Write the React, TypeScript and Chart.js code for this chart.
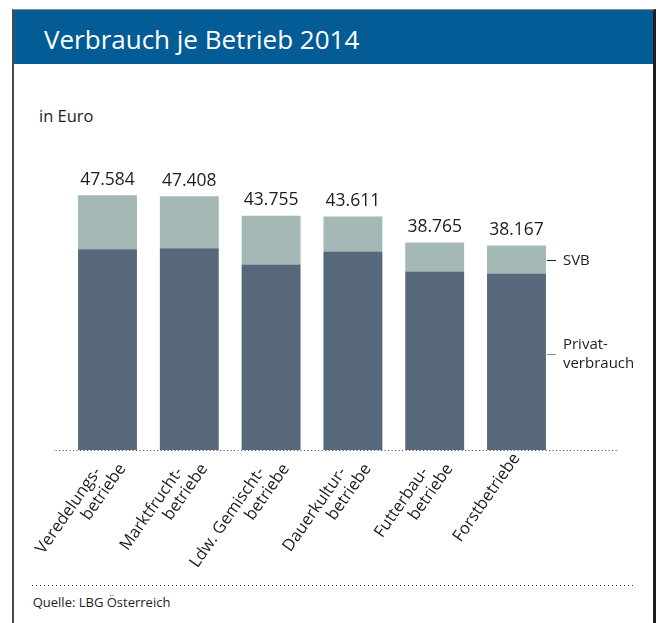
import React, { useEffect, useRef } from "react";
import { Chart, registerables } from "chart.js";

Chart.register(...registerables);

const FONT = "'Open Sans', 'Noto Sans', sans-serif";

// Categories (first line padded so the second line runs further along the slant, as in the print)
const categories: (string | string[])[] = [
  ["Veredelungs-    ", "betriebe"],
  ["Marktfrucht-    ", "betriebe"],
  ["Ldw. Gemischt-    ", "betriebe"],
  ["Dauerkultur-    ", "betriebe"],
  ["Futterbau-    ", "betriebe"],
  "Forstbetriebe",
];

// Values in Euro
const privatverbrauch = [37500, 37680, 34640, 37070, 33330, 32960];
const svb = [10084, 9728, 9115, 6541, 5435, 5207];
const totals = [47584, 47408, 43755, 43611, 38765, 38167];

const seriesNames = ["Privatverbrauch", "SVB"];
const legendLabels = [["Privat-", "verbrauch"], ["SVB"]];

const COLOR_PRIVAT = "#566879";
const COLOR_SVB = "#a4b9b6";
const TEXT = "#1d1d1b";

const fmt = (n: number) => String(n).replace(/\B(?=(\d{3})+(?!\d))/g, ".");

const overlay = {
  id: "overlay",
  afterDatasetsDraw(chart: any) {
    const ctx = chart.ctx as CanvasRenderingContext2D;
    const area = chart.chartArea;
    const m0 = chart.getDatasetMeta(0);
    const m1 = chart.getDatasetMeta(1);
    ctx.save();

    // dotted base line
    ctx.strokeStyle = "#3a3a3a";
    ctx.lineWidth = 1;
    ctx.setLineDash([1, 2.5]);
    ctx.beginPath();
    ctx.moveTo(area.left - 11, area.bottom + 0.5);
    ctx.lineTo(area.right + 61, area.bottom + 0.5);
    ctx.stroke();

    // dotted footer line
    ctx.setLineDash([1, 3]);
    ctx.beginPath();
    ctx.moveTo(32, chart.height - 37.5);
    ctx.lineTo(633, chart.height - 37.5);
    ctx.stroke();
    ctx.setLineDash([]);

    // totals above bars
    ctx.fillStyle = TEXT;
    ctx.font = `17.5px ${FONT}`;
    ctx.textAlign = "center";
    ctx.textBaseline = "alphabetic";
    m1.data.forEach((bar: any, i: number) => {
      ctx.fillText(fmt(totals[i]), bar.x, bar.y - 10.5);
    });

    // legend next to the last bar
    const last = m1.data.length - 1;
    const sb = m1.data[last];
    const pb = m0.data[last];
    const right = sb.x + sb.width / 2;
    const ySvb = Math.round((sb.y + sb.base) / 2) + 0.5;
    const yPriv = Math.round((pb.y + pb.base) / 2 - 8) + 0.5;

    ctx.lineWidth = 1;
    ctx.strokeStyle = "#1d1d1b";
    ctx.beginPath();
    ctx.moveTo(right + 1, ySvb);
    ctx.lineTo(right + 10, ySvb);
    ctx.stroke();
    ctx.strokeStyle = "#8d8d8d";
    ctx.beginPath();
    ctx.moveTo(right + 1, yPriv);
    ctx.lineTo(right + 10, yPriv);
    ctx.stroke();

    ctx.font = `15px ${FONT}`;
    ctx.textAlign = "left";
    ctx.textBaseline = "middle";
    ctx.fillText(legendLabels[1][0], right + 17, ySvb);
    ctx.fillText(legendLabels[0][0], right + 17, yPriv - 10);
    ctx.fillText(legendLabels[0][1], right + 17, yPriv + 9.5);

    ctx.restore();
  },
};

export default function App() {
  const ref = useRef<HTMLCanvasElement>(null);

  useEffect(() => {
    if (!ref.current) return;
    const chart = new Chart(ref.current, {
      type: "bar",
      data: {
        labels: categories,
        datasets: [
          { label: seriesNames[0], data: privatverbrauch, backgroundColor: COLOR_PRIVAT, borderWidth: 0 },
          { label: seriesNames[1], data: svb, backgroundColor: COLOR_SVB, borderWidth: 0 },
        ],
      },
      options: {
        responsive: false,
        animation: false,
        devicePixelRatio: 1,
        datasets: { bar: { barPercentage: 0.72, categoryPercentage: 1 } },
        layout: { padding: { left: 66.6, right: 100.6, top: 182.25, bottom: 43 } },
        plugins: { legend: { display: false }, tooltip: { enabled: false }, title: { display: false } },
        scales: {
          x: {
            stacked: true,
            grid: { display: false, drawTicks: false },
            border: { display: false },
            ticks: {
              autoSkip: false,
              maxRotation: 55,
              minRotation: 55,
              padding: 0,
              color: TEXT,
              font: { family: FONT, size: 16.5, lineHeight: 1.1 },
            },
            afterFit: (scale: any) => {
              scale.height = 130;
            },
          },
          y: { stacked: true, display: false, min: 0, max: 50000 },
        },
      },
      plugins: [overlay],
    });
    return () => chart.destroy();
  }, []);

  return (
    <div style={{ position: "fixed", left: 0, top: 0, width: 658, height: 623, overflow: "hidden", background: "#ffffff", fontFamily: FONT }}>
      <div
        style={{
          position: "absolute", left: 12, top: 9, width: 644, height: 700, boxSizing: "border-box",
          borderLeft: "2px solid #4a4a4a", borderTop: "1px solid #8c8c8c", borderRight: "3px solid #1e1e1e",
        }}
      />
      <div style={{ position: "absolute", left: 14, top: 10, width: 639, height: 54, background: "#035c96" }} />
      <div style={{ position: "absolute", left: 44, top: 26.2, fontSize: 26, lineHeight: 1, color: "#ffffff", whiteSpace: "nowrap" }}>
        Verbrauch je Betrieb 2014
      </div>
      <div style={{ position: "absolute", left: 39, top: 108.3, fontSize: 16.5, lineHeight: 1, color: TEXT, whiteSpace: "nowrap" }}>
        in Euro
      </div>
      <div style={{ position: "absolute", left: 32.7, top: 595.5, fontSize: 13, lineHeight: 1, color: TEXT, whiteSpace: "nowrap" }}>
        Quelle: LBG Österreich
      </div>
      <canvas ref={ref} width={658} height={623} style={{ position: "absolute", left: 0, top: 0, width: 658, height: 623 }} />
    </div>
  );
}
